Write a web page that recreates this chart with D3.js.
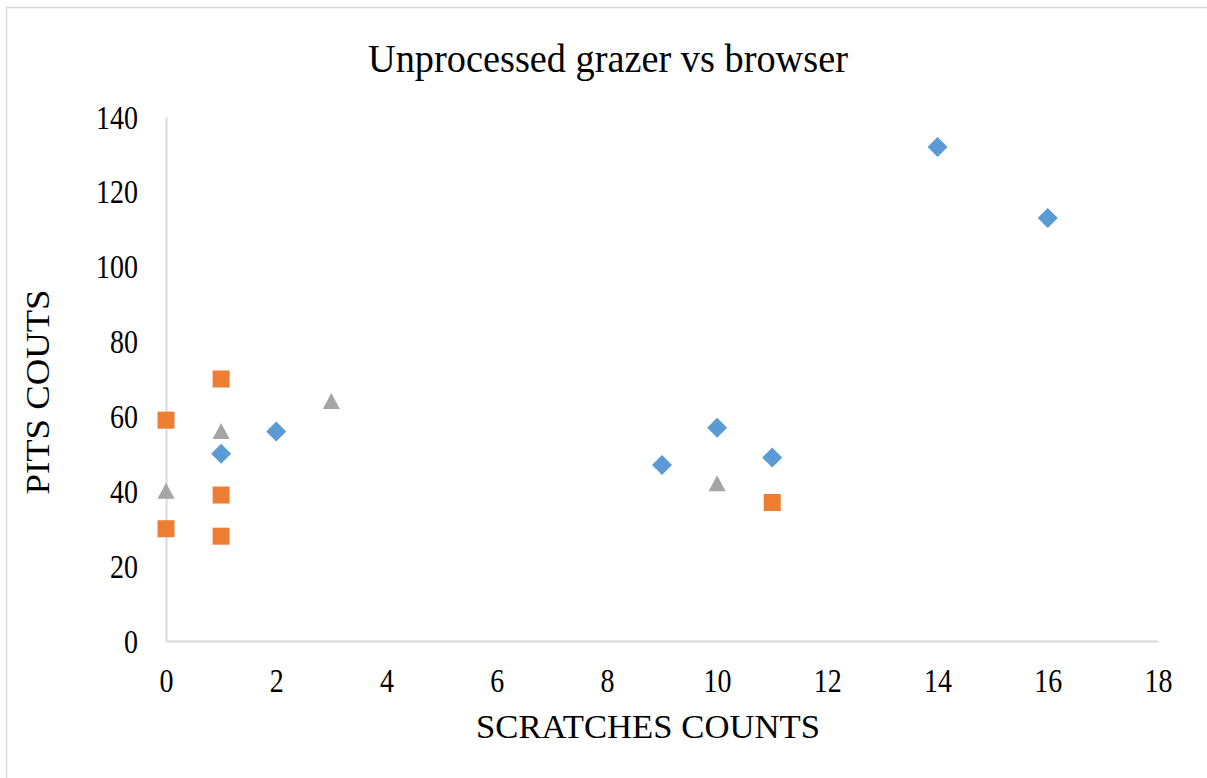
<!DOCTYPE html>
<html>
<head>
<meta charset="utf-8">
<script src="https://cdn.jsdelivr.net/npm/d3@7/dist/d3.min.js"></script>
<style>
  body { margin: 0; background: #fff; }
  text { font-family: "Liberation Serif", "Times New Roman", serif; fill: #000; }
</style>
</head>
<body>
<div class="canvas"></div>
<script>
// series: [scratches, pits]
const grazerX = [1, 2, 9, 10, 11, 14, 16]
const grazerY = [50, 56, 47, 57, 49, 132, 113]
const browserX = [0, 0, 1, 1, 1, 11]
const browserY = [59, 30, 70, 39, 28, 37]
const mixedX = [0, 1, 3, 10]
const mixedY = [40, 56, 64, 42]
const xTicks = [0, 2, 4, 6, 8, 10, 12, 14, 16, 18]
const yTicks = [0, 20, 40, 60, 80, 100, 120, 140]

const width = 1207, height = 778
const margin = {top: 117, right: 49, bottom: 137, left: 166}
const graphWidth = width - margin.left - margin.right
const graphHeight = height - margin.top - margin.bottom

const svg = d3.select(".canvas").append("svg").attr("width", width).attr("height", height)

// outer chart border
svg.append("rect").attr("x", 6.5).attr("y", 7.5).attr("width", width).attr("height", height)
    .attr("fill", "none").attr("stroke", "#d9d9d9").attr("stroke-width", 1.5)

svg.append("text").attr("transform", "translate(608, 72) scale(1, 1.08)").attr("text-anchor", "middle")
    .style("font-size", "37px").attr("textLength", 480).attr("lengthAdjust", "spacingAndGlyphs")
    .text("Unprocessed grazer vs browser")

const graph = svg.append("g").attr("transform", `translate(${margin.left}, ${margin.top})`)

const x = d3.scaleLinear().domain([0, 18]).range([0, graphWidth])
const y = d3.scaleLinear().domain([0, 140]).range([graphHeight, 0])

const xAxis = d3.axisBottom(x).tickValues(xTicks).tickSize(0)
const yAxis = d3.axisLeft(y).tickValues(yTicks).tickSize(0).tickPadding(28)

const xAxisGroup = graph.append("g").attr("transform", `translate(0, ${graphHeight})`).call(xAxis)
const yAxisGroup = graph.append("g").call(yAxis)

;[xAxisGroup, yAxisGroup].forEach(g => {
    g.select(".domain").attr("stroke", "#d9d9d9").attr("stroke-width", 2)
    g.selectAll("text").style("font-size", "28px").attr("fill", "#000")
        .attr("font-family", "Liberation Serif")
})
// tick labels in the picture are a bit taller than wide
xAxisGroup.selectAll("text").attr("y", 0).attr("dy", "0.35em")
    .attr("transform", "translate(0, 39) scale(1, 1.2)")
yAxisGroup.selectAll("text").attr("dy", "0.33em").attr("transform", "scale(1, 1.2)")

svg.append("text").attr("transform", "translate(648, 738) scale(1, 1.1)").attr("text-anchor", "middle")
    .style("font-size", "31px").attr("textLength", 344).attr("lengthAdjust", "spacingAndGlyphs")
    .text("SCRATCHES COUNTS")
svg.append("text").attr("transform", "translate(49, 392) rotate(-90)").attr("text-anchor", "middle")
    .style("font-size", "33px").attr("textLength", 205).attr("lengthAdjust", "spacingAndGlyphs")
    .text("PITS COUTS")

const toPts = (xs, ys) => xs.map((d, i) => ({x: d, y: ys[i]}))

graph.selectAll(".grazer").data(toPts(grazerX, grazerY)).enter().append("path")
    .attr("class", "grazer")
    .attr("d", d3.symbol(d3.symbolSquare, 200)())
    .attr("transform", d => `translate(${x(d.x)}, ${y(d.y)}) rotate(45)`)
    .attr("fill", "#5b9bd5")

graph.selectAll(".browser").data(toPts(browserX, browserY)).enter().append("rect")
    .attr("class", "browser")
    .attr("x", d => x(d.x) - 8.5).attr("y", d => y(d.y) - 8.5)
    .attr("width", 17).attr("height", 17)
    .attr("fill", "#ed7d31")

graph.selectAll(".mixed").data(toPts(mixedX, mixedY)).enter().append("path")
    .attr("class", "mixed")
    .attr("d", "M0,-8.5L8.5,7.5L-8.5,7.5Z")
    .attr("transform", d => `translate(${x(d.x)}, ${y(d.y)})`)
    .attr("fill", "#a5a5a5")
</script>
</body>
</html>
